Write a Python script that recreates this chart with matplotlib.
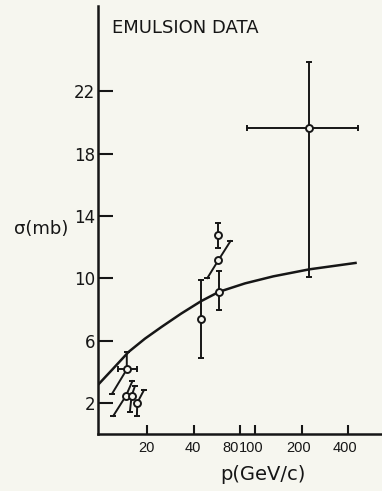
import numpy as np
import matplotlib.pyplot as plt
from matplotlib.transforms import ScaledTranslation

# emulsion points: beam momentum (GeV/c) and cross section (mb)
p = [14.8, 14.6, 15.9, 17.3, 44.5, 58.4, 57.9, 57.9, 224]
sigma = [4.17, 2.47, 2.47, 2.03, 7.39, 9.14, 11.17, 12.78, 19.65]

# error bar end points (a few bars are slanted)
p_lo = [11.9, 12.1, 15.5, 17.2, 44.5, 58.4, 49.1, 57.9, 224]
sigma_lo = [2.62, 1.19, 1.47, 1.19, 4.87, 7.97, 10.02, 11.96, 10.1]
p_hi = [14.8, 16.1, 16.7, 19.1, 44.5, 58.4, 69.3, 57.9, 224]
sigma_hi = [5.28, 3.42, 3.10, 2.84, 9.87, 10.47, 12.39, 13.57, 23.88]

# momentum spread where one is quoted
pbin_idx = [0, 8]
pbin_lo = [13.05, 89]
pbin_hi = [17.3, 465]

# fitted curve
p_fit = [9.6, 11.9, 15.2, 19.4, 24.9, 33.2, 44.7, 58.4, 86, 131, 224, 454]
sigma_fit = [3.16, 4.15, 5.29, 6.14, 6.90, 7.74, 8.54, 9.14, 9.68, 10.13, 10.58, 11.0]

xticks = [20, 40, 80, 100, 200, 400]
yticks = [2, 6, 10, 14, 18, 22]

bg = '#f6f6ef'
ink = '#161616'

plt.rcParams['font.family'] = ['DejaVu Sans']

fig = plt.figure(figsize=(3.82, 4.91), dpi=100, facecolor=bg)
ax = fig.add_axes([0.2558, 0.1151, 0.7442, 0.8727], facecolor=bg)

ax.set_xscale('log')
ax.set_xlim(9.6, 661)
ax.set_ylim(0, 27.45)

# curve
ax.plot(p_fit, sigma_fit, color=ink, lw=1.8, solid_capstyle='butt', zorder=2)

# error bars
for i in range(len(p)):
    ax.plot([p_lo[i], p[i], p_hi[i]], [sigma_lo[i], sigma[i], sigma_hi[i]],
            color=ink, lw=1.4, zorder=3)
    ax.plot([p_lo[i], p_hi[i]], [sigma_lo[i], sigma_hi[i]], ls='none',
            marker='_', ms=5, mew=1.4, color=ink, zorder=3)

for k, i in enumerate(pbin_idx):
    ax.plot([pbin_lo[k], pbin_hi[k]], [sigma[i], sigma[i]], color=ink, lw=1.4, zorder=3)
    ax.plot([pbin_lo[k], pbin_hi[k]], [sigma[i], sigma[i]], ls='none',
            marker='|', ms=5, mew=1.4, color=ink, zorder=3)

ax.plot(p, sigma, ls='none', marker='o', ms=5, mfc=bg, mec=ink, mew=1.4, zorder=4)

for s in ['top', 'right']:
    ax.spines[s].set_visible(False)
for s in ['left', 'bottom']:
    ax.spines[s].set_linewidth(1.8)
    ax.spines[s].set_color(ink)

ax.set_xticks(xticks)
ax.set_xticklabels([str(t) for t in xticks], family='Liberation Sans')
ax.xaxis.set_minor_locator(plt.NullLocator())
ax.set_yticks(yticks)
ax.set_yticklabels([str(t) for t in yticks])

ax.tick_params(axis='y', direction='in', length=10.5, width=1.5, pad=2,
               labelsize=12, colors=ink)
ax.tick_params(axis='x', direction='in', length=6.5, width=1.5, pad=5,
               labelsize=10.5, colors=ink)

# hand-lettered labels sit a little left of their ticks
shift_px = {'20': -1, '40': -1, '80': -10, '100': -4, '200': -3, '400': -3}
for lab in ax.get_xticklabels():
    dx = shift_px.get(lab.get_text(), 0)
    lab.set_transform(lab.get_transform() + ScaledTranslation(dx / 100, 0, fig.dpi_scale_trans))

fig.text(41 / 382, 1 - 229 / 491, 'σ(mb)', ha='center', va='center',
         fontsize=13, color=ink)
fig.text(263 / 382, 1 - 475 / 491, 'p(GeV/c)', ha='center', va='center',
         fontsize=14, color=ink)
fig.text(112 / 382, 1 - 28 / 491, 'EMULSION DATA', ha='left', va='center',
         fontsize=13, color=ink)

fig.savefig('out.png', dpi=100, facecolor=bg)
